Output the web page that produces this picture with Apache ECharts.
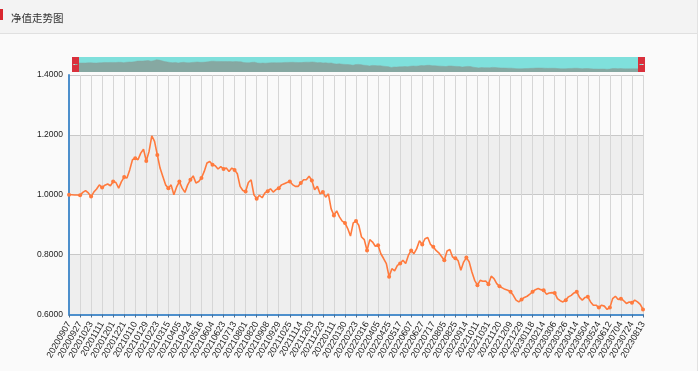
<!DOCTYPE html>
<html>
<head>
<meta charset="utf-8">
<script src="https://cdn.jsdelivr.net/npm/echarts@6/dist/echarts.min.js"></script>
<style>
html,body{margin:0;padding:0;background:#fafafa;}
#chart{width:700px;height:371px;}
</style>
</head>
<body>
<div id="chart"></div>
<script>
const titleText = '净值走势图';

const dates = [
'20200907','20200912','20200917','20200922',
'20200927','20201009','20201014','20201018',
'20201023','20201028','20201102','20201106',
'20201111','20201116','20201121','20201126',
'20201201','20201206','20201211','20201216',
'20201221','20201226','20201231','20210105',
'20210110','20210115','20210120','20210124',
'20210129','20210203','20210208','20210218',
'20210223','20210228','20210305','20210310',
'20210315','20210320','20210325','20210331',
'20210405','20210410','20210414','20210419',
'20210424','20210429','20210506','20210511',
'20210516','20210521','20210526','20210530',
'20210604','20210609','20210614','20210618',
'20210623','20210628','20210703','20210708',
'20210713','20210718','20210722','20210727',
'20210801','20210806','20210811','20210815',
'20210820','20210825','20210829','20210903',
'20210908','20210913','20210918','20210924',
'20210929','20211009','20211014','20211020',
'20211025','20211030','20211104','20211109',
'20211114','20211119','20211124','20211128',
'20211203','20211208','20211213','20211218',
'20211223','20211228','20220102','20220106',
'20220111','20220116','20220121','20220125',
'20220130','20220209','20220214','20220218',
'20220223','20220228','20220306','20220311',
'20220316','20220321','20220326','20220331',
'20220405','20220410','20220415','20220420',
'20220425','20220505','20220509','20220513',
'20220517','20220522','20220527','20220602',
'20220607','20220612','20220617','20220622',
'20220627','20220702','20220707','20220712',
'20220717','20220722','20220726','20220731',
'20220805','20220810','20220815','20220820',
'20220825','20220830','20220904','20220909',
'20220914','20220919','20220924','20221006',
'20221011','20221016','20221021','20221026',
'20221031','20221105','20221110','20221115',
'20221120','20221125','20221130','20221204',
'20221209','20221214','20221219','20221224',
'20221229','20230103','20230108','20230113',
'20230118','20230130','20230204','20230209',
'20230214','20230219','20230224','20230301',
'20230306','20230311','20230316','20230321',
'20230326','20230331','20230405','20230409',
'20230414','20230419','20230424','20230429',
'20230504','20230509','20230514','20230519',
'20230524','20230529','20230603','20230607',
'20230612','20230617','20230624','20230629',
'20230704','20230709','20230714','20230719',
'20230724','20230729','20230803','20230808',
'20230813'
];

const navValues = [
1.000,1.000,0.999,0.999,
0.998,1.008,1.014,1.006,
0.994,1.009,1.019,1.033,
1.024,1.032,1.036,1.030,
1.044,1.041,1.022,1.044,
1.059,1.056,1.083,1.117,
1.122,1.117,1.139,1.152,
1.113,1.144,1.197,1.178,
1.133,1.089,1.061,1.033,
1.022,1.033,1.000,1.026,
1.044,1.022,1.008,1.033,
1.050,1.063,1.039,1.044,
1.056,1.078,1.106,1.111,
1.100,1.097,1.086,1.094,
1.086,1.089,1.078,1.089,
1.083,1.070,1.028,1.014,
1.011,1.041,1.050,1.000,
0.987,0.998,0.990,1.006,
1.012,1.020,1.009,1.017,
1.022,1.033,1.037,1.041,
1.044,1.034,1.028,1.028,
1.039,1.050,1.050,1.062,
1.048,1.017,1.028,1.003,
1.009,0.992,1.003,0.953,
0.931,0.946,0.926,0.912,
0.906,0.887,0.862,0.906,
0.912,0.898,0.859,0.850,
0.814,0.850,0.842,0.828,
0.831,0.803,0.787,0.770,
0.726,0.753,0.746,0.764,
0.770,0.781,0.770,0.798,
0.814,0.803,0.820,0.846,
0.834,0.853,0.857,0.834,
0.826,0.814,0.806,0.794,
0.781,0.812,0.817,0.792,
0.788,0.780,0.748,0.775,
0.790,0.776,0.742,0.714,
0.698,0.714,0.711,0.712,
0.701,0.728,0.720,0.703,
0.694,0.689,0.684,0.681,
0.676,0.664,0.648,0.642,
0.650,0.657,0.661,0.668,
0.676,0.683,0.687,0.683,
0.681,0.668,0.672,0.673,
0.672,0.653,0.646,0.642,
0.648,0.659,0.664,0.672,
0.676,0.657,0.648,0.657,
0.659,0.642,0.631,0.631,
0.623,0.631,0.628,0.617,
0.623,0.653,0.661,0.650,
0.653,0.646,0.637,0.642,
0.639,0.648,0.642,0.634,
0.617
];

const yMin = 0.6, yMax = 1.4, yStep = 0.2;
const labelEvery = 3;

const chart = echarts.init(document.getElementById('chart'), null, {renderer: 'canvas'});
const axisBlue = '#4d8fcc';
const option = {
  animation: false,
  backgroundColor: '#fafafa',
  graphic: [
    {type: 'rect', left: 0, top: 0, shape: {width: 697, height: 33}, style: {fill: '#f3f3f3'}, z: -10, silent: true},
    {type: 'rect', left: 0, top: 33, shape: {width: 697, height: 1}, style: {fill: '#e0e0e0'}, z: -9, silent: true},
    {type: 'rect', left: 697, top: 0, shape: {width: 1, height: 371}, style: {fill: '#e2e2e2'}, z: -9, silent: true},
    {type: 'rect', left: 698, top: 0, shape: {width: 2, height: 371}, style: {fill: '#ffffff'}, z: -9, silent: true},
    {type: 'rect', left: 0, top: 9, shape: {width: 3, height: 11}, style: {fill: '#d9262e'}, z: 5, silent: true}
  ],
  title: {
    text: titleText,
    left: 6, top: 8,
    textStyle: {fontSize: 10.5, fontWeight: 'normal', color: '#333', fontFamily: 'Noto Sans CJK SC'}
  },
  grid: {left: 69, right: 57, top: 75, bottom: 56.5, containLabel: false, outerBoundsMode: 'none'},
  dataZoom: [{
    type: 'slider',
    xAxisIndex: 0,
    start: 0, end: 100,
    left: 72, right: 60, top: 57, height: 15,
    showDetail: false,
    brushSelect: false,
    moveHandleSize: 0,
    borderColor: 'transparent',
    backgroundColor: '#7fe0dc',
    fillerColor: 'rgba(0,0,0,0)',
    handleIcon: 'path://M0,0H70V150H0Z M15,70V80H55V70Z',
    handleSize: '100%',
    handleStyle: {color: '#d9303c', borderColor: '#c82a35', borderWidth: 0},
    dataBackground: {lineStyle: {color: '#86a8a2', width: 0.5, opacity: 1}, areaStyle: {color: '#86a8a2', opacity: 1}},
    selectedDataBackground: {lineStyle: {color: '#86a8a2', width: 0.5, opacity: 1}, areaStyle: {color: '#86a8a2', opacity: 1}}
  }],
  xAxis: {
    type: 'category',
    data: dates,
    boundaryGap: false,
    axisLine: {show: true, lineStyle: {color: axisBlue, width: 2}},
    axisTick: {show: true, interval: labelEvery, length: 3, lineStyle: {color: '#4a6f94'}},
    axisLabel: {interval: labelEvery, rotate: 60, fontSize: 9, color: '#222', margin: 8, fontFamily: 'Liberation Sans', showMinLabel: true, showMaxLabel: true, hideOverlap: false},
    splitLine: {show: true, interval: labelEvery, lineStyle: {color: '#d6d6d6', width: 1}}
  },
  yAxis: {
    type: 'value',
    min: yMin, max: yMax, interval: yStep,
    axisLine: {show: true, lineStyle: {color: axisBlue, width: 2}},
    axisTick: {show: false},
    axisLabel: {formatter: v => v.toFixed(4), fontSize: 8.5, color: '#222', margin: 6, fontFamily: 'Liberation Sans'},
    splitLine: {show: true, lineStyle: {color: '#c8c8c8', width: 1}},
    splitArea: {show: true, areaStyle: {color: ['#eeeeee', '#fafafa']}}
  },
  series: [{
    type: 'line',
    data: navValues,
    showSymbol: true,
    showAllSymbol: 'auto',
    symbol: 'circle',
    symbolSize: 4,
    lineStyle: {color: '#ff7a3d', width: 1.6},
    itemStyle: {color: '#ff7a3d'}
  }]
};
chart.setOption(option);
</script>
</body>
</html>
